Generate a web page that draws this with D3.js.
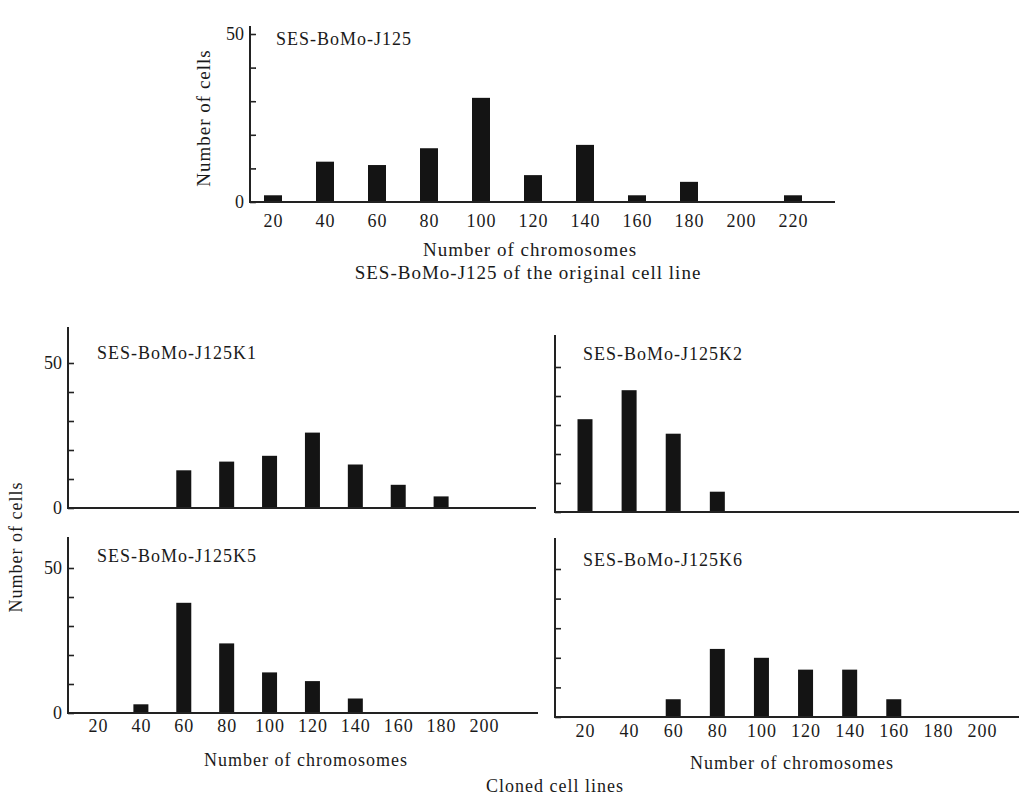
<!DOCTYPE html>
<html>
<head>
<meta charset="utf-8">
<script src="https://cdn.jsdelivr.net/npm/d3@7"></script>
<style>
  body { margin: 0; background: #fff; }
  svg text { font-family: "Liberation Serif", "DejaVu Serif", serif; fill: #1a1a1a; }
</style>
</head>
<body>
<svg id="fig" width="1019" height="796"></svg>
<script>
// chromosome number bins
const topBins = [20, 40, 60, 80, 100, 120, 140, 160, 180, 200, 220];
const cloneBins = [20, 40, 60, 80, 100, 120, 140, 160, 180, 200];

// number of cells per bin
const j125 = [2, 12, 11, 16, 31, 8, 17, 2, 6, 0, 2];
const j125K1 = [0, 0, 13, 16, 18, 26, 15, 8, 4, 0];
const j125K2 = [32, 42, 27, 7, 0, 0, 0, 0, 0, 0];
const j125K5 = [0, 3, 38, 24, 14, 11, 5, 0, 0, 0];
const j125K6 = [0, 0, 6, 23, 20, 16, 16, 6, 0, 0];

const yTicks = [0, 10, 20, 30, 40, 50];

const svg = d3.select('#fig');

// panel layout: axis origin, extent and where the first/last bins sit
const PANELS = [
  { name: 'SES-BoMo-J125', bins: topBins, counts: j125,
    ax: 250, axEnd: 835, y0: 202, y50: 34, yTop: 26,
    xFirst: 273, xLast: 793, barW: 18, ylabels: true, xlabels: true,
    font: 18, titleX: 276, titleY: 45, tickY: 228 },
  { name: 'SES-BoMo-J125K1', bins: cloneBins, counts: j125K1,
    ax: 68, axEnd: 536, y0: 508, y50: 363, yTop: 327,
    xFirst: 98, xLast: 484, barW: 15, ylabels: true, xlabels: false,
    font: 18, titleX: 97, titleY: 359 },
  { name: 'SES-BoMo-J125K2', bins: cloneBins, counts: j125K2,
    ax: 555, axEnd: 1019, y0: 512, y50: 367, yTop: 335,
    xFirst: 585, xLast: 982, barW: 15, ylabels: false, xlabels: false,
    font: 18, titleX: 583, titleY: 360 },
  { name: 'SES-BoMo-J125K5', bins: cloneBins, counts: j125K5,
    ax: 68, axEnd: 538, y0: 713, y50: 568, yTop: 537,
    xFirst: 98, xLast: 484, barW: 15, ylabels: true, xlabels: true,
    font: 18, titleX: 97, titleY: 562, tickY: 733 },
  { name: 'SES-BoMo-J125K6', bins: cloneBins, counts: j125K6,
    ax: 555, axEnd: 1019, y0: 717, y50: 569, yTop: 538,
    xFirst: 585, xLast: 982, barW: 15, ylabels: false, xlabels: true,
    font: 18, titleX: 583, titleY: 566, tickY: 738 }
];

function drawPanel(p) {
  let x = d3.scaleLinear()
    .domain([p.bins[0], p.bins[p.bins.length - 1]])
    .range([p.xFirst, p.xLast]);
  let y = d3.scaleLinear().domain([0, 50]).range([p.y0, p.y50]);

  let g = svg.append('g');

  // bars
  g.selectAll('rect')
    .data(p.bins.map((b, i) => ({ bin: b, n: p.counts[i] })).filter(d => d.n > 0))
    .join('rect')
      .attr('x', d => x(d.bin) - p.barW / 2)
      .attr('y', d => y(d.n))
      .attr('width', p.barW)
      .attr('height', d => y(0) - y(d.n))
      .attr('fill', '#141414');

  // y axis: ticks point inward, only 0 and 50 labelled
  let yAxis = d3.axisLeft(y)
    .tickValues(yTicks)
    .tickSizeInner(-6)
    .tickSizeOuter(0)
    .tickPadding(6)
    .tickFormat(d => (p.ylabels && (d === 0 || d === 50)) ? d : '');

  let ya = g.append('g')
    .attr('transform', `translate(${p.ax},0)`)
    .call(yAxis);
  ya.select('.domain').remove();
  ya.selectAll('line').attr('stroke', '#222').attr('stroke-width', 1.6);
  ya.selectAll('text')
    .style('font-size', p.font + 'px')
    .style('font-family', '"Liberation Serif", serif')
    .attr('fill', '#1a1a1a');

  // x axis: labels only, no tick marks
  if (p.xlabels) {
    let xa = g.append('g')
      .attr('transform', `translate(0,${p.tickY - 14})`)
      .call(d3.axisBottom(x).tickValues(p.bins).tickSize(0).tickPadding(0));
    xa.select('.domain').remove();
    xa.selectAll('text')
      .attr('dy', '0.71em')
      .style('font-size', p.font + 'px')
      .style('font-family', '"Liberation Serif", serif')
      .attr('letter-spacing', 1)
      .attr('fill', '#1a1a1a');
  }

  // axis lines
  g.append('line')
    .attr('x1', p.ax).attr('x2', p.ax)
    .attr('y1', p.yTop).attr('y2', p.y0 + 1)
    .attr('stroke', '#222').attr('stroke-width', 2);
  g.append('line')
    .attr('x1', p.ax).attr('x2', p.axEnd)
    .attr('y1', p.y0).attr('y2', p.y0)
    .attr('stroke', '#222').attr('stroke-width', 2);

  // panel title
  g.append('text')
    .attr('x', p.titleX).attr('y', p.titleY)
    .attr('letter-spacing', 1)
    .style('font-size', p.font + 'px')
    .text(p.name);
}

PANELS.forEach(drawPanel);

// axis titles and captions
function label(txt, x, y, size, rotate) {
  let t = svg.append('text')
    .attr('text-anchor', 'middle')
    .attr('letter-spacing', 1)
    .style('font-size', size + 'px')
    .text(txt);
  if (rotate) {
    t.attr('transform', `translate(${x},${y}) rotate(-90)`);
  } else {
    t.attr('x', x).attr('y', y);
  }
}

label('Number of cells', 210, 118, 19, true);
label('Number of chromosomes', 530, 256, 19);
label('SES-BoMo-J125 of the original cell line', 528, 279, 19);

label('Number of cells', 22, 547, 18, true);
label('Number of chromosomes', 306, 766, 18);
label('Number of chromosomes', 792, 769, 18);
label('Cloned cell lines', 555, 792, 18);
</script>
</body>
</html>
